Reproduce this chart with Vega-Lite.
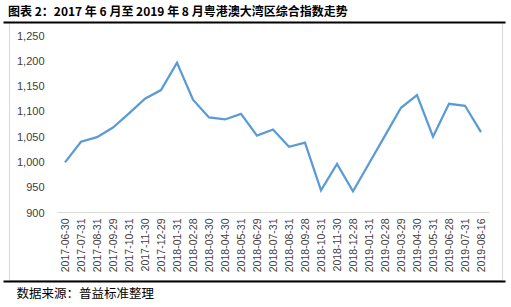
{
  "$schema": "https://vega.github.io/schema/vega-lite/v6.json",
  "width": 493,
  "height": 258,
  "autosize": {"type": "none"},
  "padding": {"left": 9, "top": 22, "right": 9, "bottom": 27},
  "background": "white",
  "title": {
    "text": "图表 2：2017 年 6 月至 2019 年 8 月粤港澳大湾区综合指数走势",
    "anchor": "start",
    "frame": "group",
    "font": "Noto Sans CJK SC",
    "fontSize": 12,
    "fontWeight": "bold",
    "color": "#000000",
    "offset": 3,
    "dx": -1
  },
  "config": {
    "view": {"stroke": "#d9d9d9", "strokeWidth": 1},
    "font": "Liberation Sans"
  },
  "datasets": {
    "index": [
      {"date": "2017-06-30", "value": 1000},
      {"date": "2017-07-31", "value": 1041},
      {"date": "2017-08-31", "value": 1050},
      {"date": "2017-09-29", "value": 1069},
      {"date": "2017-10-31", "value": 1097},
      {"date": "2017-11-30", "value": 1126},
      {"date": "2017-12-29", "value": 1143},
      {"date": "2018-01-31", "value": 1197},
      {"date": "2018-02-28", "value": 1124},
      {"date": "2018-03-30", "value": 1089},
      {"date": "2018-04-30", "value": 1085},
      {"date": "2018-05-31", "value": 1096},
      {"date": "2018-06-29", "value": 1053},
      {"date": "2018-07-31", "value": 1065},
      {"date": "2018-08-31", "value": 1031},
      {"date": "2018-09-28", "value": 1039},
      {"date": "2018-10-31", "value": 945},
      {"date": "2018-11-30", "value": 997},
      {"date": "2018-12-28", "value": 943},
      {"date": "2019-01-31", "value": 998},
      {"date": "2019-02-28", "value": 1053},
      {"date": "2019-03-29", "value": 1108},
      {"date": "2019-04-30", "value": 1133},
      {"date": "2019-05-31", "value": 1051},
      {"date": "2019-06-28", "value": 1116},
      {"date": "2019-07-31", "value": 1112},
      {"date": "2019-08-16", "value": 1060}
    ],
    "frame": [{"a": 0, "b": 0}, {"a": 1, "b": 1}]
  },
  "layer": [
    {
      "data": {"name": "index"},
      "mark": {"type": "line", "color": "#5b9bd5", "strokeWidth": 2.25, "strokeJoin": "miter"},
      "encoding": {
        "x": {
          "field": "date",
          "type": "ordinal",
          "sort": null,
          "scale": {"type": "point", "range": [48, 480], "padding": 0.5},
          "axis": {
            "orient": "bottom",
            "offset": -68,
            "title": null,
            "ticks": false,
            "domainColor": "#d9d9d9",
            "domainWidth": 1,
            "labelAngle": -90,
            "labelAlign": "right",
            "labelBaseline": "middle",
            "labelPadding": 6,
            "labelFontSize": 10.5,
            "labelColor": "#404040",
            "labelOverlap": false,
            "grid": false
          }
        },
        "y": {
          "field": "value",
          "type": "quantitative",
          "scale": {"domain": [900, 1250], "range": [191, 14], "nice": false, "zero": false},
          "axis": {
            "orient": "left",
            "offset": -40,
            "title": null,
            "values": [900, 950, 1000, 1050, 1100, 1150, 1200, 1250],
            "format": ",.0f",
            "domain": false,
            "ticks": false,
            "grid": false,
            "labelPadding": 5,
            "labelFontSize": 11,
            "labelColor": "#404040"
          }
        }
      }
    },
    {
      "data": {"name": "frame"},
      "mark": {"type": "point", "opacity": 0},
      "encoding": {
        "x": {
          "field": "a",
          "type": "quantitative",
          "scale": {"domain": [0, 1], "range": [-6, 496], "nice": false},
          "axis": {
            "orient": "top",
            "offset": 0,
            "title": null,
            "labels": false,
            "ticks": false,
            "grid": false,
            "domainColor": "#000000",
            "domainWidth": 2
          }
        }
      }
    },
    {
      "data": {"name": "frame"},
      "mark": {"type": "point", "opacity": 0},
      "encoding": {
        "x": {
          "field": "b",
          "type": "quantitative",
          "scale": {"domain": [0, 1], "range": [-6, 496], "nice": false},
          "axis": {
            "orient": "bottom",
            "offset": 1,
            "title": "数据来源：普益标准整理",
            "titleFont": "Noto Sans CJK SC",
            "titleFontSize": 12.5,
            "titleFontWeight": "normal",
            "titleColor": "#000000",
            "titleAnchor": "start",
            "titleAlign": "left",
            "titleX": 7,
            "titlePadding": 6,
            "labels": false,
            "ticks": false,
            "grid": false,
            "domainColor": "#000000",
            "domainWidth": 2
          }
        }
      }
    }
  ],
  "resolve": {"scale": {"x": "independent"}, "axis": {"x": "independent"}}
}
